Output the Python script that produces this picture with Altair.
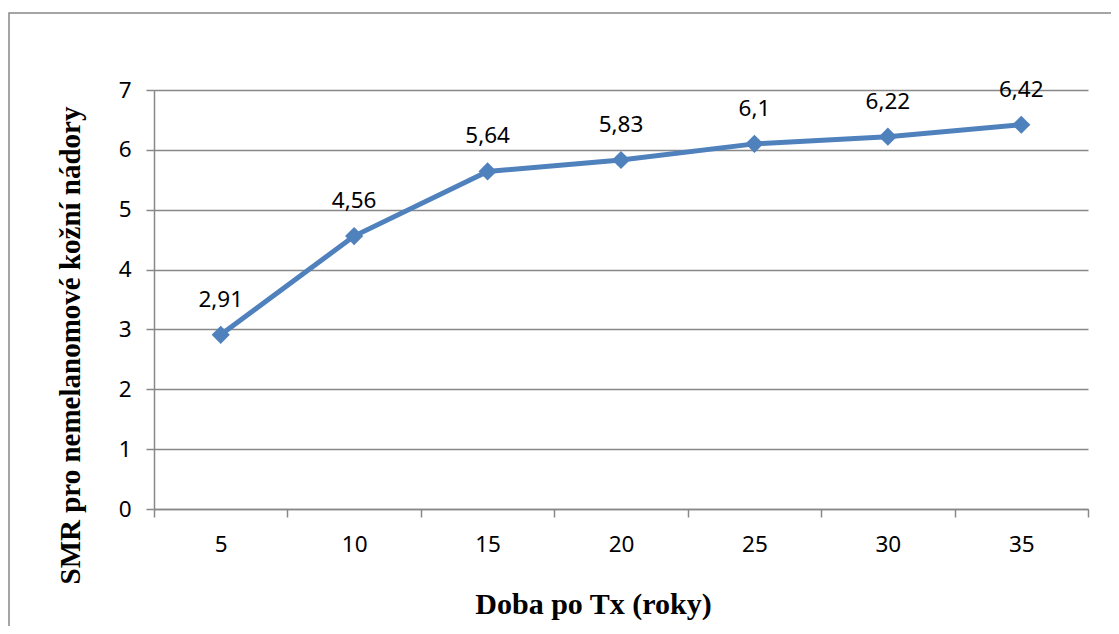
import altair as alt
import pandas as pd

years = [5, 10, 15, 20, 25, 30, 35]
smr = [2.91, 4.56, 5.64, 5.83, 6.1, 6.22, 6.42]
labels = ["2,91", "4,56", "5,64", "5,83", "6,1", "6,22", "6,42"]
y_ticks = [0, 1, 2, 3, 4, 5, 6, 7]

df = pd.DataFrame({"doba": years, "smr": smr, "label": labels})

LINE = "#4F81BD"
GRID = "#888888"
LABEL_FONT = "Noto Sans"
TITLE_FONT = "Liberation Serif"

x_enc = alt.X(
    "doba:O",
    bandPosition=0.5,
    scale=alt.Scale(type="band", paddingInner=0, paddingOuter=0),
    axis=alt.Axis(
        title="Doba po Tx (roky)",
        labelAngle=0,
        tickBand="extent",
        tickSize=8,
        tickColor=GRID,
        tickWidth=1.5,
        domainColor=GRID,
        domainWidth=1.5,
        labelFont=LABEL_FONT,
        labelFontSize=22.5,
        labelColor="black",
        labelPadding=16,
        titleFont=TITLE_FONT,
        titleFontSize=30,
        titleFontWeight="bold",
        titleColor="black",
        titleX=439,
        titleY=104,
        titleAlign="center",
        titleBaseline="alphabetic",
        grid=False,
    ),
)

y_enc = alt.Y(
    "smr:Q",
    scale=alt.Scale(domain=[0, 7], nice=False, zero=True),
    axis=alt.Axis(
        title="SMR pro nemelanomové kožní nádory",
        values=y_ticks,
        tickSize=8,
        tickColor=GRID,
        tickWidth=1.5,
        domainColor=GRID,
        domainWidth=1.5,
        grid=True,
        gridColor=GRID,
        gridWidth=1.5,
        labelFont=LABEL_FONT,
        labelFontSize=22.5,
        labelColor="black",
        labelPadding=15,
        titleFont=TITLE_FONT,
        titleFontSize=29,
        titleFontWeight="bold",
        titleColor="black",
        titleAngle=270,
        titleX=-84,
        titleY=255,
        titleAlign="center",
        titleBaseline="middle",
    ),
)

base = alt.Chart(df)

line = base.mark_line(color=LINE, strokeWidth=5).encode(x=x_enc, y=y_enc)
points = base.mark_point(
    shape="diamond", filled=True, color=LINE, size=330, opacity=1
).encode(x=x_enc, y=y_enc)
texts = base.mark_text(
    font=LABEL_FONT, fontSize=22.5, color="black", baseline="alphabetic", dy=-28
).encode(x=x_enc, y=y_enc, text="label:N")

frame = alt.Chart(alt.Data(values=[{}])).mark_rect(
    fill=None, stroke=GRID, strokeWidth=1.5
).encode(
    x=alt.value(-145), x2=alt.value(1100), y=alt.value(-77), y2=alt.value(700)
)

chart = (
    alt.layer(frame, line, points, texts)
    .properties(
        width=934,
        height=419,
        autosize=alt.AutoSizeParams(type="none"),
        padding={"left": 146, "top": 82, "right": 23, "bottom": 117},
        background="white",
    )
    .configure_view(stroke=None)
)

chart.save("out.html", embed_options={"renderer": "svg", "actions": False})
